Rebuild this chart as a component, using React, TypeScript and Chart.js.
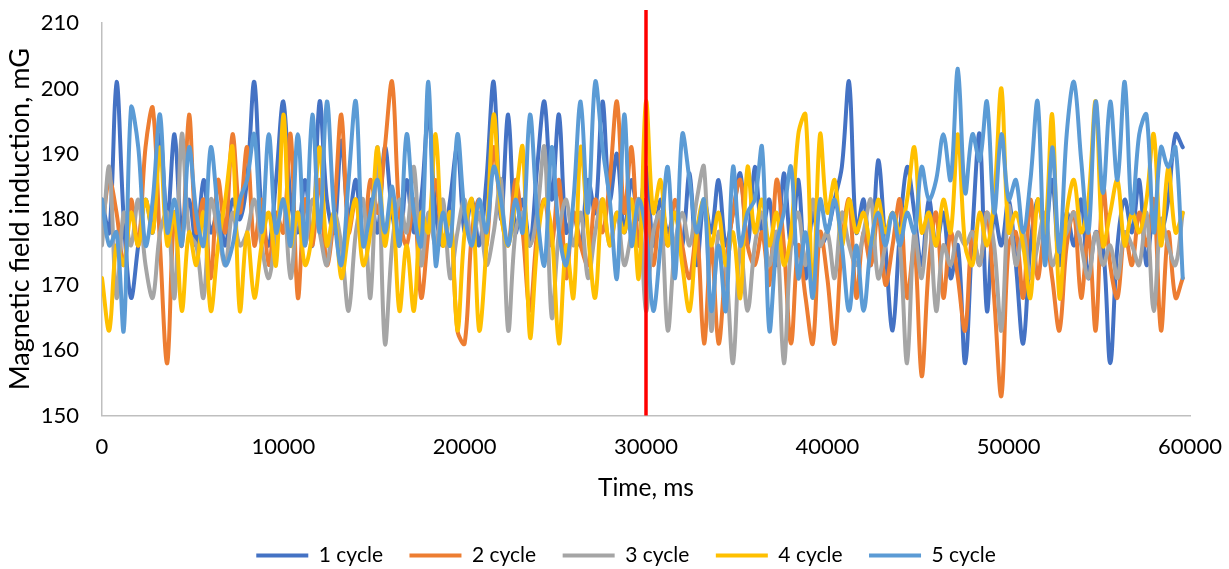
import React, { useEffect, useRef } from "react";
import { Chart, registerables } from "chart.js";

Chart.register(...registerables);

// Sampling interval of the recorded series (ms)
const TIME_STEP_MS = 400;

const cycle1 = [
  183, 178, 201, 180, 168, 176, 183, 178, 193, 180,
  193, 178, 183, 176, 186, 178, 181, 176, 183, 180,
  186, 201, 181, 176, 186, 198, 183, 178, 186, 176,
  198, 183, 178, 192, 180, 186, 176, 183, 178, 191,
  181, 176, 186, 178, 183, 196, 181, 176, 183, 191,
  178, 183, 176, 186, 201, 180, 196, 178, 183, 176,
  188, 198, 183, 196, 178, 181, 176, 186, 181, 198,
  183, 190, 178, 186, 180, 188, 176, 183, 178, 181,
  176, 187, 173, 183, 178, 186, 176, 181, 187, 176,
  188, 178, 183, 173, 187, 176, 186, 171, 181, 176,
  178, 183, 188, 201, 178, 183, 173, 189, 176, 163,
  178, 188, 181, 173, 183, 176, 181, 171, 176, 158,
  178, 193, 166, 181, 176, 183, 173, 161, 176, 183,
  178, 186, 173, 181, 176, 183, 171, 178, 176, 158,
  176, 183, 178, 186, 173, 181, 178, 183, 193, 191,
];

const cycle2 = [
  178, 186, 181, 173, 183, 176, 191, 197, 176, 158,
  181, 176, 196, 178, 183, 171, 186, 178, 193, 181,
  191, 176, 183, 173, 181, 178, 193, 168, 183, 176,
  186, 173, 181, 196, 178, 183, 176, 186, 181, 191,
  201, 181, 176, 183, 168, 178, 186, 176, 181, 163,
  161, 178, 183, 176, 191, 181, 176, 186, 178, 166,
  178, 183, 176, 186, 171, 181, 176, 173, 183, 178,
  186, 198, 181, 191, 176, 183, 173, 181, 176, 183,
  176, 171, 178, 161, 176, 161, 173, 181, 186, 176,
  173, 178, 170, 186, 176, 161, 176, 168, 161, 178,
  171, 161, 176, 183, 168, 178, 173, 181, 170, 176,
  183, 168, 176, 156, 173, 181, 168, 178, 171, 163,
  178, 173, 181, 168, 153, 176, 178, 168, 183, 171,
  178, 171, 163, 176, 181, 168, 178, 163, 185, 173,
  168, 178, 173, 181, 176, 183, 163, 178, 168, 171,
];

const cycle3 = [
  176, 188, 168, 181, 176, 183, 173, 168, 178, 181,
  168, 193, 178, 176, 168, 183, 178, 173, 181, 176,
  178, 183, 176, 171, 178, 183, 171, 181, 176, 183,
  178, 173, 181, 176, 166, 178, 183, 168, 191, 161,
  176, 183, 178, 188, 173, 181, 176, 183, 171, 178,
  183, 176, 181, 173, 178, 186, 163, 178, 181, 176,
  181, 191, 165, 178, 183, 176, 181, 171, 178, 183,
  176, 181, 173, 178, 183, 166, 178, 181, 163, 176,
  181, 176, 183, 188, 163, 178, 173, 158, 176, 166,
  176, 181, 173, 178, 158, 176, 181, 173, 183, 176,
  178, 171, 181, 176, 173, 178, 183, 171, 176, 181,
  176, 158, 178, 171, 181, 166, 176, 173, 178, 176,
  178, 173, 181, 176, 163, 182, 173, 178, 171, 176,
  181, 173, 176, 178, 181, 176, 171, 178, 173, 176,
  171, 178, 176, 173, 181, 166, 180, 176, 173, 181,
];

const cycle4 = [
  171, 163, 176, 173, 181, 176, 183, 178, 191, 176,
  181, 166, 178, 173, 181, 166, 176, 183, 191, 166,
  178, 168, 176, 181, 173, 196, 176, 181, 173, 178,
  191, 176, 181, 171, 178, 183, 173, 178, 191, 176,
  183, 166, 176, 166, 181, 178, 193, 176, 181, 163,
  178, 183, 163, 176, 196, 181, 176, 183, 191, 162,
  176, 183, 178, 161, 176, 168, 191, 178, 168, 183,
  176, 181, 178, 183, 171, 198, 181, 186, 176, 181,
  173, 166, 178, 183, 176, 181, 173, 178, 168, 188,
  178, 183, 176, 181, 173, 178, 193, 196, 168, 193,
  181, 186, 176, 183, 178, 181, 176, 183, 178, 181,
  178, 183, 191, 178, 181, 176, 183, 178, 193, 176,
  173, 181, 176, 183, 200, 178, 181, 176, 168, 183,
  178, 196, 168, 181, 186, 178, 183, 198, 176, 181,
  186, 176, 181, 178, 183, 193, 176, 188, 178, 181,
];

const cycle5 = [
  183, 176, 178, 163, 197, 191, 176, 183, 196, 178,
  183, 176, 191, 181, 176, 191, 181, 173, 176, 183,
  186, 193, 178, 193, 178, 183, 176, 193, 176, 196,
  178, 198, 181, 173, 186, 198, 176, 181, 186, 178,
  185, 176, 193, 181, 176, 201, 173, 181, 176, 193,
  181, 176, 183, 178, 188, 183, 176, 183, 178, 196,
  181, 173, 191, 178, 173, 183, 198, 181, 201, 191,
  183, 171, 196, 176, 183, 178, 166, 176, 188, 171,
  193, 186, 178, 183, 166, 176, 166, 188, 176, 181,
  183, 191, 163, 176, 181, 188, 171, 178, 168, 183,
  178, 183, 176, 166, 176, 166, 176, 181, 176, 181,
  176, 181, 178, 188, 183, 186, 193, 186, 203, 184,
  193, 189, 198, 181, 193, 183, 186, 178, 186, 198,
  173, 191, 175, 193, 201, 189, 178, 198, 184, 198,
  186, 201, 181, 193, 196, 178, 191, 188, 191, 171,
];

const seriesNames = ["1 cycle", "2 cycle", "3 cycle", "4 cycle", "5 cycle"];
const seriesColors = ["#4472C4", "#ED7D31", "#A5A5A5", "#FFC000", "#5B9BD5"];

// Vertical red marker (stage change at 30 s)
const markerTime = 30000;
const markerRange = [150, 212];
const markerLabel = "marker";

const xTitle = "Time, ms";
const yTitle = "Magnetic field induction, mG";

const FONT = "Lato, 'Noto Sans', 'DejaVu Sans', sans-serif";
const LEGEND_SHIFT = 31;

const legendShift = {
  id: "legendShift",
  afterLayout(chart: any) {
    const lg = chart.legend;
    if (lg) {
      lg.left += LEGEND_SHIFT;
      lg.right += LEGEND_SHIFT;
    }
  },
};

export default function App() {
  const ref = useRef<HTMLCanvasElement>(null);

  useEffect(() => {
    if (!ref.current) return;
    const series = [cycle1, cycle2, cycle3, cycle4, cycle5];
    const datasets: any[] = series.map((vals, s) => ({
      label: seriesNames[s],
      data: vals.map((v, i) => ({ x: i * TIME_STEP_MS, y: v })),
      borderColor: seriesColors[s],
      backgroundColor: seriesColors[s],
      borderWidth: 4,
      pointRadius: 0,
      tension: 0.35,
      borderCapStyle: "round",
      borderJoinStyle: "round",
      order: -s,
    }));
    datasets.push({
      label: markerLabel,
      data: markerRange.map((y) => ({ x: markerTime, y })),
      borderColor: "#FF0000",
      backgroundColor: "#FF0000",
      borderWidth: 3.5,
      pointRadius: 0,
      tension: 0,
      clip: false,
      order: -10,
    });

    const defaultLabels = (Chart.defaults as any).plugins.legend.labels.generateLabels;

    const chart = new Chart(ref.current, {
      type: "line",
      data: { datasets },
      plugins: [legendShift],
      options: {
        animation: false,
        responsive: false,
        layout: { padding: { left: 0, right: 39, top: 23, bottom: 0 } },
        scales: {
          x: {
            type: "linear",
            min: 0,
            max: 60000,
            ticks: {
              stepSize: 10000,
              autoSkip: false,
              maxRotation: 0,
              padding: 18,
              color: "#000",
              font: { family: FONT, size: 22 },
              callback: (v: any) => String(v),
            },
            grid: { display: false, drawTicks: false },
            border: { color: "#BFBFBF", width: 1.5 },
            title: {
              display: true,
              text: xTitle,
              color: "#000",
              font: { family: FONT, size: 24.5 },
              padding: { top: 4, bottom: 16 },
            },
            afterFit: (s: any) => {
              s.height = 103;
              s.paddingLeft = 0;
              s.paddingRight = 0;
            },
          },
          y: {
            min: 150,
            max: 210,
            ticks: {
              stepSize: 10,
              padding: 23,
              color: "#000",
              font: { family: FONT, size: 22 },
            },
            grid: { display: false, drawTicks: false },
            border: { color: "#BFBFBF", width: 1.5 },
            title: {
              display: true,
              text: yTitle,
              color: "#000",
              font: { family: FONT, size: 27 },
              padding: { top: 4, bottom: 0 },
            },
            afterFit: (s: any) => {
              s.width = 102;
              s.paddingTop = 0;
              s.paddingBottom = 0;
            },
          },
        },
        plugins: {
          legend: {
            position: "bottom",
            reverse: true,
            labels: {
              boxWidth: 52,
              boxHeight: 4,
              padding: 26.5,
              color: "#000",
              font: { family: FONT, size: 21 },
              generateLabels: (c: any) =>
                defaultLabels(c).map((l: any) => ({ ...l, lineWidth: 0 })),
              filter: (item: any) => item.text !== markerLabel,
            },
          },
          tooltip: { enabled: false },
        },
      } as any,
    });
    return () => chart.destroy();
  }, []);

  return (
    <div
      style={{
        position: "fixed",
        left: 0,
        top: 0,
        width: 1229,
        height: 569,
        overflow: "hidden",
        background: "#fff",
      }}
    >
      <canvas ref={ref} width={1229} height={576} style={{ display: "block" }} />
    </div>
  );
}
